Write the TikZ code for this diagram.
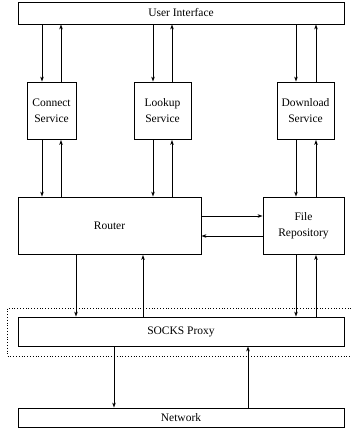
\documentclass[tikz,border=0pt]{standalone}
\usepackage{fontspec}
\setmainfont{Liberation Serif}
\usetikzlibrary{arrows.meta}
\begin{document}
\begin{tikzpicture}[x=1pt,y=-1pt,
    box/.style={draw,line width=0.8pt,inner sep=0pt,align=center,
      font=\fontsize{11.5}{15.5}\selectfont},
    arr/.style={line width=0.8pt,-{Stealth[length=5pt,width=3.5pt,inset=1.5pt]}}]
  \useasboundingbox (0,0) rectangle (351,429);
  \node[box,minimum width=326pt,minimum height=22pt] (ui) at (181,13) {User Interface};
  \node[box,minimum width=49pt,minimum height=57.5pt] (cs) at (51.5,110.75) {Connect\\Service};
  \node[box,minimum width=57pt,minimum height=57.5pt] (ls) at (162.5,110.75) {Lookup\\Service};
  \node[box,minimum width=57pt,minimum height=57.5pt] (ds) at (305.5,110.75) {Download\\Service};
  \node[box,minimum width=183pt,minimum height=57.5pt] (router) at (109.5,225.75) {Router};
  \node[box,minimum width=81pt,minimum height=57.5pt] (fr) at (303.5,225.75) {File\\Repository};
  \node[box,minimum width=326pt,minimum height=29pt] (socks) at (181,331.5) {SOCKS Proxy};
  \node[box,minimum width=326pt,minimum height=19.5pt] (net) at (181,417.75) {Network};
  \draw[dotted,line width=0.8pt] (7.5,308.5) rectangle (360,356);
  \draw[arr] (ui.south -| 42,0) -- (cs.north -| 42,0);
  \draw[arr] (cs.north -| 61,0) -- (ui.south -| 61,0);
  \draw[arr] (ui.south -| 153,0) -- (ls.north -| 153,0);
  \draw[arr] (ls.north -| 172,0) -- (ui.south -| 172,0);
  \draw[arr] (ui.south -| 296,0) -- (ds.north -| 296,0);
  \draw[arr] (ds.north -| 316,0) -- (ui.south -| 316,0);
  \draw[arr] (cs.south -| 42,0) -- (router.north -| 42,0);
  \draw[arr] (router.north -| 61,0) -- (cs.south -| 61,0);
  \draw[arr] (ls.south -| 153,0) -- (router.north -| 153,0);
  \draw[arr] (router.north -| 172,0) -- (ls.south -| 172,0);
  \draw[arr] (ds.south -| 296,0) -- (fr.north -| 296,0);
  \draw[arr] (fr.north -| 316,0) -- (ds.south -| 316,0);
  \draw[arr] (router.east |- 0,216) -- (fr.west |- 0,216);
  \draw[arr] (fr.west |- 0,236) -- (router.east |- 0,236);
  \draw[arr] (router.south -| 76,0) -- (socks.north -| 76,0);
  \draw[arr] (socks.north -| 143,0) -- (router.south -| 143,0);
  \draw[arr] (fr.south -| 296,0) -- (socks.north -| 296,0);
  \draw[arr] (socks.north -| 316,0) -- (fr.south -| 316,0);
  \draw[arr] (socks.south -| 114,0) -- (net.north -| 114,0);
  \draw[arr] (net.north -| 248,0) -- (socks.south -| 248,0);
\end{tikzpicture}
\end{document}
